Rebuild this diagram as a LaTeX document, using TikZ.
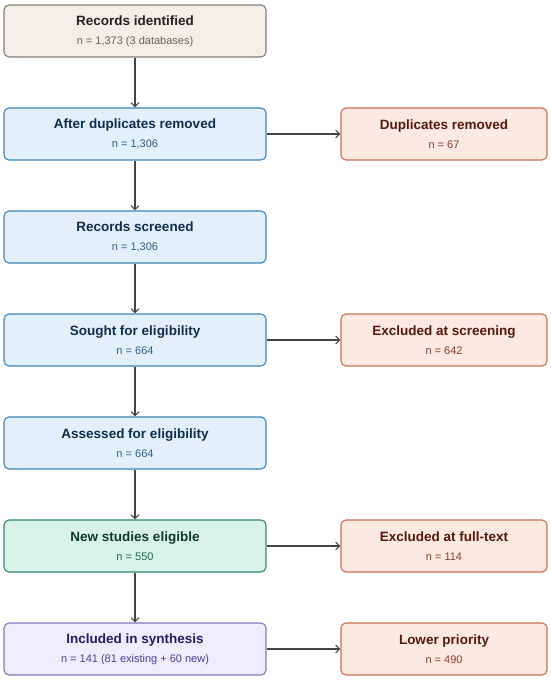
\documentclass[tikz,border=0pt]{standalone}
\usepackage{fontspec}
\setmainfont{Liberation Sans}
\usetikzlibrary{arrows.meta}

\definecolor{srcfill}{HTML}{F3EEE8}
\definecolor{srcline}{HTML}{857B73}
\definecolor{srctext}{HTML}{222222}
\definecolor{bluefill}{HTML}{E3F0FB}
\definecolor{blueline}{HTML}{3B84BD}
\definecolor{bluetext}{HTML}{0E2E4D}
\definecolor{bluesub}{HTML}{2C5F88}
\definecolor{redfill}{HTML}{FCEAE2}
\definecolor{redline}{HTML}{C9714F}
\definecolor{redtext}{HTML}{55190B}
\definecolor{redsub}{HTML}{8C3B28}
\definecolor{greenfill}{HTML}{D9F3EC}
\definecolor{greenline}{HTML}{34876D}
\definecolor{greentext}{HTML}{0E3A2D}
\definecolor{greensub}{HTML}{1E6A54}
\definecolor{purplefill}{HTML}{EEEDFC}
\definecolor{purpleline}{HTML}{8176C2}
\definecolor{purpletext}{HTML}{271D63}
\definecolor{purplesub}{HTML}{4A3F98}
\definecolor{arrowgrey}{HTML}{444444}

\tikzset{
  box/.style={draw, rounded corners=5pt, line width=1.1pt, align=center,
    font=\fontsize{13.5}{19}\selectfont\bfseries, inner sep=0pt},
  leftbox/.style={box, minimum width=262pt, minimum height=52pt},
  rightbox/.style={box, minimum width=206pt, minimum height=52pt},
  srcbox/.style={leftbox, fill=srcfill, draw=srcline, text=srctext},
  bluebox/.style={leftbox, fill=bluefill, draw=blueline, text=bluetext},
  greenbox/.style={leftbox, fill=greenfill, draw=greenline, text=greentext},
  purplebox/.style={leftbox, fill=purplefill, draw=purpleline, text=purpletext},
  redbox/.style={rightbox, fill=redfill, draw=redline, text=redtext},
  flow/.style={draw=arrowgrey, line width=1.1pt, -{Straight Barb[length=4pt,width=8pt]}}
}
\newcommand{\subline}[2]{{\fontsize{11}{19}\selectfont\mdseries\color{#1}#2}}

\begin{document}
\begin{tikzpicture}[x=1pt, y=1pt]
  \useasboundingbox (0,0) rectangle (550,-684);

  % Colonna principale
  \node[srcbox] (identified) at (135,-31) {Records identified\\ \subline{srcline!80!black}{n = 1,373 (3 databases)}};
  \node[bluebox] (dedup) at (135,-134) {After duplicates removed\\ \subline{bluesub}{n = 1,306}};
  \node[bluebox] (screened) at (135,-237) {Records screened\\ \subline{bluesub}{n = 1,306}};
  \node[bluebox] (sought) at (135,-340) {Sought for eligibility\\ \subline{bluesub}{n = 664}};
  \node[bluebox] (assessed) at (135,-443) {Assessed for eligibility\\ \subline{bluesub}{n = 664}};
  \node[greenbox] (eligible) at (135,-546) {New studies eligible\\ \subline{greensub}{n = 550}};
  \node[purplebox] (included) at (135,-649) {Included in synthesis\\ \subline{purplesub}{n = 141 (81 existing + 60 new)}};

  % Esclusi a destra
  \node[redbox] (duplicates) at (444,-134) {Duplicates removed\\ \subline{redsub}{n = 67}};
  \node[redbox] (exscreen) at (444,-340) {Excluded at screening\\ \subline{redsub}{n = 642}};
  \node[redbox] (exfull) at (444,-546) {Excluded at full-text\\ \subline{redsub}{n = 114}};
  \node[redbox] (lower) at (444,-649) {Lower priority\\ \subline{redsub}{n = 490}};

  % Frecce verticali
  \draw[flow] (identified) -- (dedup);
  \draw[flow] (dedup) -- (screened);
  \draw[flow] (screened) -- (sought);
  \draw[flow] (sought) -- (assessed);
  \draw[flow] (assessed) -- (eligible);
  \draw[flow] (eligible) -- (included);

  % Frecce orizzontali
  \draw[flow] (dedup) -- (duplicates);
  \draw[flow] (sought) -- (exscreen);
  \draw[flow] (eligible) -- (exfull);
  \draw[flow] (included) -- (lower);
\end{tikzpicture}
\end{document}
